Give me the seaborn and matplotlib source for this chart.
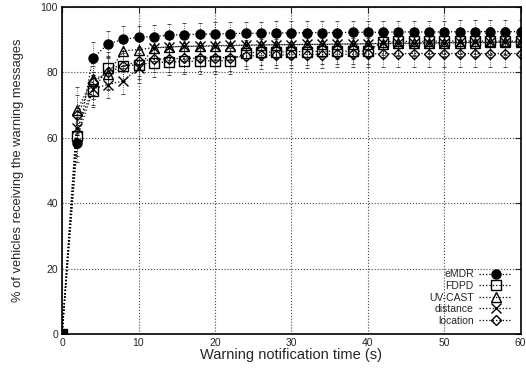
import matplotlib
matplotlib.use("Agg")
import matplotlib.pyplot as plt
from matplotlib.lines import Line2D
import numpy as np
import seaborn as sns

sns.set_style("white")
plt.rcParams['font.family'] = ['Liberation Sans', 'DejaVu Sans']

time_s = list(range(0, 61, 2))

emdr = [0, 58.5, 84.3, 88.8, 90.1, 90.8, 91.0, 91.4, 91.6, 91.7, 91.8,
        91.9, 92.0, 92.0, 92.1, 92.1, 92.2, 92.2, 92.2, 92.3, 92.3,
        92.3, 92.4, 92.4, 92.4, 92.4, 92.5, 92.5, 92.5, 92.5, 92.5]
fdpd = [0, 60.5, 74.3, 81.4, 82.0, 82.4, 83.0, 83.2, 83.4, 83.5, 83.6,
        83.6, 86.0, 86.2, 86.3, 86.4, 86.4, 86.5, 86.5, 86.5, 86.6,
        89.4, 89.5, 89.5, 89.6, 89.6, 89.6, 89.6, 89.6, 89.6, 89.6]
uvcast = [0, 68.5, 78.0, 79.5, 86.6, 87.0, 87.6, 87.8, 88.0, 88.0, 88.1,
          88.2, 88.3, 88.4, 88.5, 88.5, 88.6, 88.6, 88.7, 88.7, 88.8,
          88.8, 88.9, 88.9, 89.0, 89.0, 89.1, 89.1, 89.2, 89.2, 89.2]
distance = [0, 63.0, 75.0, 76.3, 77.4, 81.4, 87.5, 87.8, 88.0, 88.1, 88.2,
            88.3, 88.4, 88.4, 88.5, 88.5, 88.6, 88.6, 88.7, 88.7, 88.8,
            88.9, 89.0, 89.0, 89.1, 89.1, 89.2, 89.2, 89.3, 89.3, 89.3]
location = [0, 67.0, 77.0, 80.0, 82.0, 83.4, 84.0, 84.2, 84.3, 84.4, 84.5,
            84.5, 85.0, 85.2, 85.3, 85.4, 85.5, 85.5, 85.6, 85.6, 85.7,
            85.7, 85.7, 85.8, 85.8, 85.8, 85.8, 85.8, 85.8, 85.8, 85.8]

err_emdr = [0, 6, 5, 4, 4, 3.5, 3.5] + [3.5] * 24
err_fdpd = [0, 6, 5, 5, 4.5, 4.5, 4.5] + [4] * 24
err_uvcast = [0, 7, 5, 5, 4.5, 4.5, 4] + [4] * 24
err_distance = [0, 6, 5, 4, 4, 4.5, 4] + [4.5] * 24
err_location = [0, 6, 5, 5, 4.5, 4.5, 4] + [4] * 24

labels = ["eMDR", "FDPD", "UV-CAST", "distance", "location"]
series = [emdr, fdpd, uvcast, distance, location]
errors = [err_emdr, err_fdpd, err_uvcast, err_distance, err_location]
markers = ["o", "s", "^", "x", "D"]
facecolors = ["black", "none", "none", "black", "none"]
msizes = [6.5, 7, 6.5, 6.5, 5.5]

fig = plt.figure(figsize=(5.26, 3.74), dpi=100)
ax = fig.add_axes([0.118, 0.107, 0.872, 0.874])

handles = []
for lab, vals, err, mk, fc, ms in zip(labels, series, errors, markers, facecolors, msizes):
    eb = ax.errorbar(time_s, vals, yerr=err, fmt="none", ecolor="#333333",
                     elinewidth=0.6, capsize=1.5, capthick=0.6, zorder=2)
    for lc in eb[2]:
        lc.set_linestyle(":")
    sns.lineplot(x=time_s, y=vals, ax=ax, color="black", linestyle=":",
                 linewidth=0.9, marker=mk, markersize=ms, markerfacecolor=fc,
                 markeredgecolor="black", markeredgewidth=1.0, zorder=3)
    handles.append(Line2D([], [], color="black", linestyle=":", linewidth=0.9,
                          marker=mk, markersize=ms, markerfacecolor=fc,
                          markeredgecolor="black", markeredgewidth=1.0, label=lab))

ax.set_xlim(0, 60)
ax.set_ylim(0, 100)
ax.set_xticks(range(0, 61, 10))
ax.set_yticks(range(0, 101, 20))
ax.grid(True, linestyle=":", color="#444444", linewidth=0.8)
ax.tick_params(direction="in", length=4, width=0.8, top=True, right=True,
               labelsize=7.5, pad=3)
for sp in ax.spines.values():
    sp.set_linewidth(1.2)
    sp.set_color("black")

ax.set_xlabel("Warning notification time (s)", fontsize=10.5, labelpad=0)
ax.set_ylabel("% of vehicles receiving the warning messages", fontsize=9.3, labelpad=12)

leg = ax.legend(handles=handles, loc="lower right", markerfirst=False,
                frameon=False, fontsize=7.5, handlelength=3.2, labelspacing=0.15,
                handletextpad=0.5, borderaxespad=0.4)

fig.savefig("out.png", dpi=100)
